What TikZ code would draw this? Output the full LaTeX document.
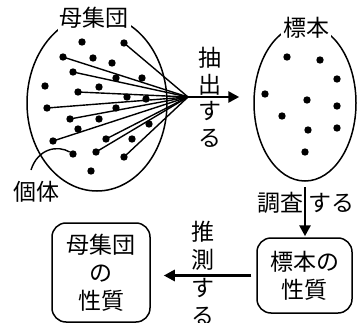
\documentclass[tikz,border=0pt]{standalone}
\usepackage{fontspec}
\setmainfont{Noto Sans CJK JP}
\usetikzlibrary{arrows.meta,shapes.geometric}
\begin{document}
\begin{tikzpicture}[x=1pt,y=-1pt,
  jp/.style={font=\fontsize{23pt}{27pt}\selectfont, inner sep=0pt},
  dot/.style={circle,fill=black,inner sep=0pt,minimum size=7.4pt},
  ray/.style={line width=1.4pt},
  setshape/.style={ellipse,draw,line width=1.5pt,inner sep=0pt},
  bigarrow/.style={line width=2.9pt,-{Triangle[length=11pt,width=11pt]}},
  boxnode/.style={draw,line width=1.5pt,rounded corners=14pt,align=center,inner sep=0pt,font=\fontsize{23pt}{28pt}\selectfont}]
\useasboundingbox (0,0) rectangle (358,323);
% sets
\node[setshape, minimum width=140pt, minimum height=176pt] (pop) at (97,103) {};
\node[setshape, minimum width=102pt, minimum height=156pt] (smp) at (305,103) {};
\node[jp, fill=white, inner sep=2pt] (popl) at (94,18) {母集団};
\node[jp, fill=white, inner sep=2pt] (smpl) at (306,28) {標本};
% population dots
\foreach \n/\x/\y in {a1/82/42, a2/124/43, a3/63/57, a4/93/58, a5/112/63, a6/73/72,
  a7/116/78, a8/142/78, a9/45/86, a10/99/87, a11/78/92, a12/127/97, a13/146/99,
  a14/47/108, a15/116/108, a16/70/119, a17/99/119, a18/78/129, a19/149/124,
  a20/53/141, a21/106/139, a22/132/139, a23/73/154, a24/96/152, a25/124/157, a26/91/171}
  \node[dot] (\n) at (\x,\y) {};
% sample dots
\foreach \n/\x/\y in {b1/287/57, b2/320/60, b3/337/79, b4/265/94, b5/307/100,
  b6/337/106, b7/282/116, b8/308/130, b9/337/128, b10/305/152}
  \node[dot] (\n) at (\x,\y) {};
% rays
\coordinate (conv) at (188,97);
\foreach \d in {a2,a3,a6,a11,a14,a16,a20,a21,a24,a25}
  \draw[ray] (conv) -- (\d.center);
% extraction arrow
\draw[bigarrow, shorten >=14pt] (conv) -- (conv -| smp.west);
\node[jp, align=center, font=\fontsize{23pt}{26.5pt}\selectfont] (ext) at (210,97.5) {抽\\出\\す\\る};
% individual label
\node[jp] (ind) at (36,192) {個体};
\coordinate (indc) at (31,170);
\draw[ray] (indc) .. controls (38,148) and (58,145) .. (a23);
% boxes
\node[boxnode, minimum width=98pt, minimum height=99pt] (pbox) at (101,272.5) {母集団\\の\\性質};
\node[boxnode, minimum width=95pt, minimum height=75pt] (sbox) at (304.5,275.5) {標本の\\性質};
% investigate arrow
\draw[bigarrow, shorten <=5pt, shorten >=1pt] (smp.south) -- (smp.south |- sbox.north);
\node[jp] (inv1) at (280,203) {調査};
\node[jp] (inv2) at (331,203) {する};
% inference arrow
\draw[bigarrow, shorten <=5pt, shorten >=13pt] (sbox.west) -- (sbox.west -| pbox.east);
\node[jp, align=center, font=\fontsize{23pt}{28pt}\selectfont] (inf) at (203,273) {推\\測\\す\\る};
\end{tikzpicture}
\end{document}
